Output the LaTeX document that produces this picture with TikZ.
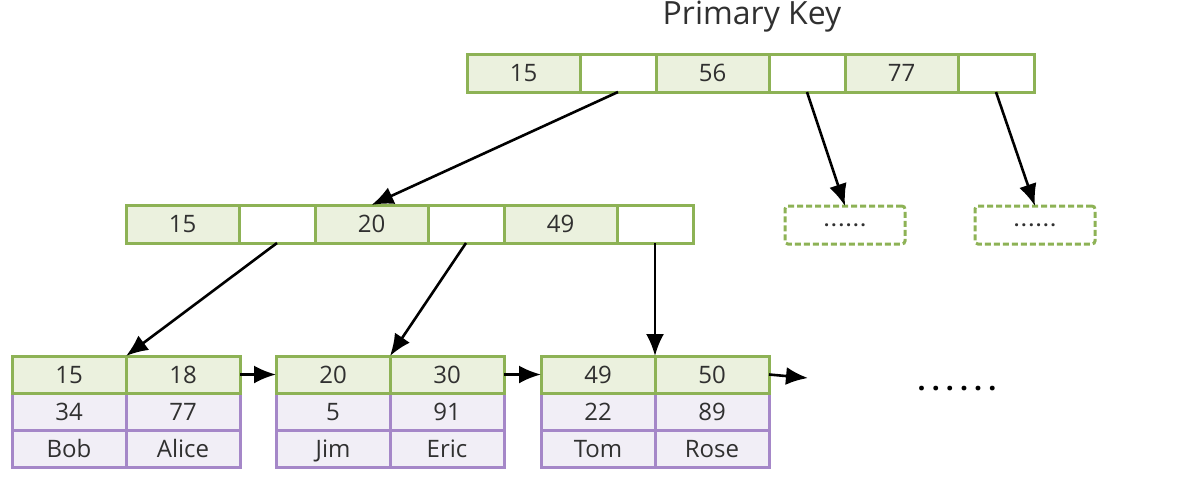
\documentclass[tikz,border=0pt]{standalone}
\usepackage{fontspec}
\setmainfont{Open Sans}
\usetikzlibrary{positioning,arrows.meta}

\definecolor{keyline}{HTML}{8DB255}
\definecolor{keyfill}{HTML}{EBF1DE}
\definecolor{rowline}{HTML}{A587C8}
\definecolor{rowfill}{HTML}{F1EEF6}
\definecolor{txt}{HTML}{303030}

\tikzset{
  cell/.style={draw, line width=3pt, inner sep=0pt, outer sep=0pt, text=txt,
    text height=17pt, text depth=0pt, font=\fontsize{24}{24}\selectfont},
  keycell/.style={cell, draw=keyline, fill=keyfill, minimum width=113pt, minimum height=38pt},
  ptrcell/.style={cell, draw=keyline, fill=white, minimum width=76pt, minimum height=38pt},
  leafkey/.style={cell, draw=keyline, fill=keyfill, minimum width=114pt, minimum height=37pt},
  leafrow/.style={cell, draw=rowline, fill=rowfill, minimum width=114pt, minimum height=37pt},
  dotbox/.style={cell, draw=keyline, dash pattern=on 6pt off 3pt, rounded corners=3pt,
    minimum width=120pt, minimum height=38pt, text height=, text depth=,
    font=\fontsize{18}{18}\selectfont\bfseries\addfontfeature{LetterSpace=12}},
  link/.style={-{Latex[length=22pt,width=18pt]}, line width=2.6pt, black}
}

\begin{document}
\begin{tikzpicture}[x=1pt,y=-1pt]
  \useasboundingbox (0,0) rectangle (1186,480);

  \node(title) at (752,17) [text=txt, font=\fontsize{32}{32}\selectfont] {Primary Key};

  % root page
  \node(root1) [keycell, anchor=north west] at (467,54) {15};
  \node(root2) [ptrcell, right=0pt of root1] {};
  \node(root3) [keycell, right=0pt of root2] {56};
  \node(root4) [ptrcell, right=0pt of root3] {};
  \node(root5) [keycell, right=0pt of root4] {77};
  \node(root6) [ptrcell, right=0pt of root5] {};

  % inner page
  \node(mid1) [keycell, anchor=north west] at (126,205) {15};
  \node(mid2) [ptrcell, right=0pt of mid1] {};
  \node(mid3) [keycell, right=0pt of mid2] {20};
  \node(mid4) [ptrcell, right=0pt of mid3] {};
  \node(mid5) [keycell, right=0pt of mid4] {49};
  \node(mid6) [ptrcell, right=0pt of mid5] {};

  \node(more1) [dotbox, anchor=north west] at (785,206) {......};
  \node(more2) [dotbox, anchor=north west] at (975,206) {......};

  % leaf pages
  \node(l1i1) [leafrow, anchor=north west] at (12,393) {34};
  \node(l1i2) [leafrow, right=0pt of l1i1] {77};
  \node(l1n1) [leafrow, below=0pt of l1i1] {Bob};
  \node(l1n2) [leafrow, right=0pt of l1n1] {Alice};
  \node(l1k1) [leafkey, above=0pt of l1i1] {15};
  \node(l1k2) [leafkey, right=0pt of l1k1] {18};

  \node(l2i1) [leafrow, anchor=north west] at (276,393) {5};
  \node(l2i2) [leafrow, right=0pt of l2i1] {91};
  \node(l2n1) [leafrow, below=0pt of l2i1] {Jim};
  \node(l2n2) [leafrow, right=0pt of l2n1] {Eric};
  \node(l2k1) [leafkey, above=0pt of l2i1] {20};
  \node(l2k2) [leafkey, right=0pt of l2k1] {30};

  \node(l3i1) [leafrow, anchor=north west] at (541,393) {22};
  \node(l3i2) [leafrow, right=0pt of l3i1] {89};
  \node(l3n1) [leafrow, below=0pt of l3i1] {Tom};
  \node(l3n2) [leafrow, right=0pt of l3n1] {Rose};
  \node(l3k1) [leafkey, above=0pt of l3i1] {49};
  \node(l3k2) [leafkey, right=0pt of l3k1] {50};

  \node(etc) at (957,389) [font=\fontsize{28}{28}\selectfont\bfseries\addfontfeature{LetterSpace=22}] {......};
  \coordinate(tail) at (808,378);

  % pointers
  \draw[link] (root2.south) -- (mid3.north);
  \draw[link] (root4.south) -- (more1.north);
  \draw[link] (root6.south) -- (more2.north);
  \draw[link] (mid2.south) -- (l1k1.north east);
  \draw[link] (mid4.south) -- (l2k1.north east);
  \draw[link] (mid6.south) -- (l3k1.north east);
  \draw[link] (l1k2.east) -- (l2k1.west);
  \draw[link] (l2k2.east) -- (l3k1.west);
  \draw[link] (l3k2.east) -- (tail);
\end{tikzpicture}
\end{document}
